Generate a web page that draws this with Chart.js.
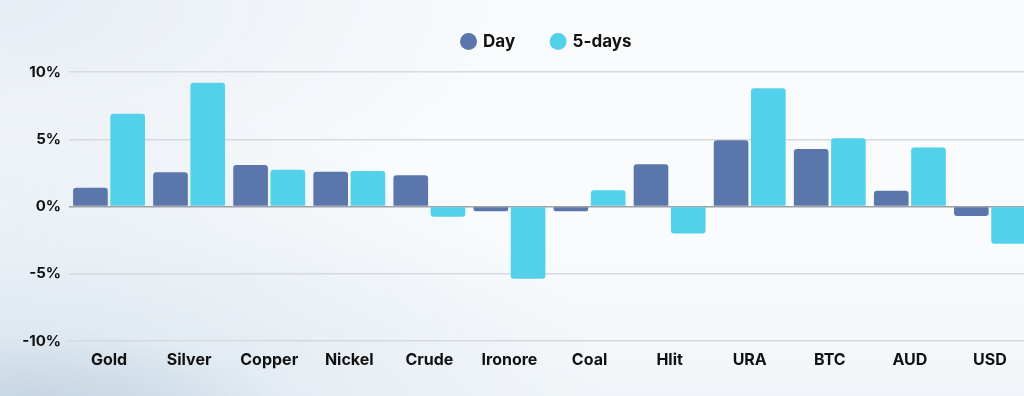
<!DOCTYPE html>
<html>
<head>
<meta charset="utf-8">
<script src="https://cdn.jsdelivr.net/npm/chart.js@4"></script>
<style>
  html, body { margin: 0; padding: 0; width: 1024px; height: 396px; overflow: hidden; }
  body {
    background:
      radial-gradient(ellipse 260px 90px at 40px 420px, rgba(190,208,222,0.9), rgba(190,208,222,0) 100%),
      radial-gradient(ellipse 600px 300px at 0px 396px, rgba(215,227,237,0.9), rgba(215,227,237,0) 100%),
      radial-gradient(ellipse 500px 250px at 0px 0px, rgba(230,237,244,1), rgba(230,237,244,0) 100%),
      linear-gradient(180deg, #f8fafc 0%, #f9fbfd 60%, #f1f5f9 100%);
  }
  #wrap { position: absolute; left: 0; top: 0; width: 1040px; height: 396px; }
</style>
</head>
<body>
<div id="wrap"><canvas id="c" width="1040" height="396"></canvas></div>
<script>
const categories = ['Gold', 'Silver', 'Copper', 'Nickel', 'Crude', 'Ironore', 'Coal', 'Hlit', 'URA', 'BTC', 'AUD', 'USD'];
const dayValues = [1.40, 2.55, 3.09, 2.59, 2.32, -0.36, -0.36, 3.14, 4.93, 4.28, 1.18, -0.71];
const fiveDayValues = [6.89, 9.20, 2.74, 2.64, -0.76, -5.37, 1.21, -2.00, 8.80, 5.08, 4.38, -2.77];
const yTicks = [-10, -5, 0, 5, 10];
const seriesNames = ['Day', '5-days'];

const FONT = 'Inter, "Open Sans", sans-serif';

const legendShift = {
  id: 'legendShift',
  afterLayout(chart) {
    const lg = chart.legend;
    if (!lg) return;
    lg.top -= 12; lg.bottom -= 12;
    lg.left += 32; lg.right += 32;
  }
};

new Chart(document.getElementById('c'), {
  type: 'bar',
  data: {
    labels: categories,
    datasets: [
      { label: seriesNames[0], data: dayValues, backgroundColor: '#5a76aa', borderRadius: 3, borderSkipped: 'start' },
      { label: seriesNames[1], data: fiveDayValues, backgroundColor: '#53d0ea', borderRadius: 3, borderSkipped: 'start' }
    ]
  },
  plugins: [legendShift],
  options: {
    responsive: false,
    animation: false,
    devicePixelRatio: 1,
    categoryPercentage: 0.93,
    barPercentage: 0.93,
    layout: { padding: { left: 0, right: 10, top: 8, bottom: 0 } },
    plugins: {
      legend: {
        display: true,
        position: 'top',
        align: 'center',
        labels: {
          usePointStyle: true,
          pointStyle: 'circle',
          boxWidth: 12,
          boxHeight: 12,
          padding: 37,
          color: '#111111',
          font: { family: FONT, size: 17, weight: '700' }
        }
      },
      tooltip: { enabled: false }
    },
    scales: {
      x: {
        grid: { display: false, drawTicks: false },
        border: { display: false },
        ticks: {
          color: '#111111',
          padding: 10,
          font: { family: FONT, size: 16, weight: '700' }
        },
        afterFit: (s) => { s.height = 55; }
      },
      y: {
        min: -10,
        max: 10,
        afterBuildTicks: (s) => { s.ticks = yTicks.map(v => ({ value: v })); },
        grid: {
          drawTicks: false,
          color: (ctx) => ctx.tick && ctx.tick.value === 0 ? '#9ea2a6' : '#d6dade',
          lineWidth: 1.5
        },
        border: { display: false },
        ticks: {
          color: '#111111',
          padding: 8,
          font: { family: FONT, size: 15, weight: '700' },
          callback: (v) => v + '%'
        },
        afterFit: (s) => { s.width = 69; }
      }
    }
  }
});
</script>
</body>
</html>
